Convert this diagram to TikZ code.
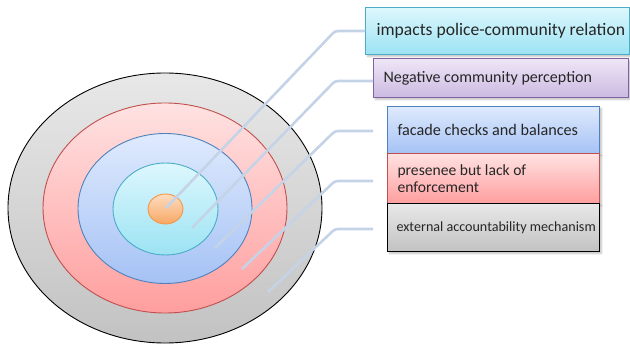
\documentclass[tikz,border=0pt]{standalone}
\usepackage{fontspec}
\setmainfont{Carlito}
\usetikzlibrary{shapes.geometric,shadows.blur}

\definecolor{lead}{HTML}{C5D3E7}
\definecolor{cyanEdge}{HTML}{4BACC6}
\definecolor{purpEdge}{HTML}{8064A2}
\definecolor{blueEdge}{HTML}{4F81BD}
\definecolor{redEdge}{HTML}{C0504D}
\definecolor{orangeEdge}{HTML}{F79646}
\definecolor{grayTop}{HTML}{E8E8E8}   \definecolor{grayBot}{HTML}{C2C2C2}
\definecolor{redTop}{HTML}{FFE2E2}    \definecolor{redBot}{HTML}{FF9E9E}
\definecolor{blueTop}{HTML}{DFEAFD}   \definecolor{blueBot}{HTML}{A5C2F5}
\definecolor{cyanTop}{HTML}{DDF7FD}   \definecolor{cyanBot}{HTML}{9CE3F3}
\definecolor{orTop}{HTML}{FDDCC0}     \definecolor{orBot}{HTML}{F8A864}
\definecolor{purpTop}{HTML}{EEE6F6}   \definecolor{purpBot}{HTML}{CCBAE2}

\tikzset{
  ring/.style={ellipse, inner sep=0pt, line width=0.9pt},
  lead/.style={draw=lead, line width=2.6pt, rounded corners=3pt},
  label box/.style={rectangle, anchor=north west, inner sep=0pt,
    line width=1.1pt, text=black!85,
    blur shadow={shadow xshift=2pt, shadow yshift=-2pt, shadow blur steps=4, shadow opacity=25}},
}
% a left-aligned label of given width and left padding
\newcommand{\boxtext}[3]{\makebox[#1][l]{\hspace*{#2}#3}}

\begin{document}
\begin{tikzpicture}[x=1pt,y=-1pt]
\useasboundingbox (0,0) rectangle (630,347);

% concentric rings, outermost first
\node[ring, draw=black, top color=grayTop, bottom color=grayBot,
  minimum width=314pt, minimum height=270pt] (r5) at (165,208) {};
\node[ring, draw=redEdge, top color=redTop, bottom color=redBot,
  minimum width=244pt, minimum height=210pt] (r4) at (165,208) {};
\node[ring, draw=blueEdge, top color=blueTop, bottom color=blueBot,
  minimum width=174pt, minimum height=150pt] (r3) at (165,208.5) {};
\node[ring, draw=cyanEdge, top color=cyanTop, bottom color=cyanBot,
  minimum width=105pt, minimum height=92pt] (r2) at (165.5,209) {};
\node[ring, draw=orangeEdge, top color=orTop, bottom color=orBot,
  minimum width=35pt, minimum height=30pt] (r1) at (165.5,209) {};

% label boxes
\node[label box, draw=cyanEdge, top color=cyanTop, bottom color=cyanBot,
  minimum height=47pt] (b1) at (365,7)
  {\fontsize{17.6}{19}\selectfont\boxtext{264pt}{11pt}{impacts police-community relation}};
\node[label box, draw=purpEdge, top color=purpTop, bottom color=purpBot,
  minimum height=39pt] (b2) at (373,58)
  {\fontsize{16}{18}\selectfont\boxtext{255pt}{10pt}{Negative community perception}};
\node[label box, draw=blueEdge, top color=blueTop, bottom color=blueBot,
  minimum height=47pt] (b3) at (387,106)
  {\fontsize{16.2}{18}\selectfont\boxtext{212pt}{10pt}{facade checks and balances}};
\node[label box, draw=redEdge, top color=redTop, bottom color=redBot,
  minimum height=50pt] (b4) at (387,153)
  {\fontsize{15.6}{16}\selectfont\boxtext{212pt}{10pt}{\shortstack[l]{presenee but lack of\\enforcement}}};
\node[label box, draw=black, top color=grayTop, bottom color=grayBot,
  minimum height=48pt] (b5) at (387,203)
  {\fontsize{14.1}{15}\selectfont\boxtext{212pt}{9pt}{external accountability mechanism}};

% leader lines: start points, elbows and loose ends
\coordinate (s1) at (166,208);  \coordinate (k1) at (335,31);
\coordinate (s2) at (192,228);  \coordinate (k2) at (335,81);
\coordinate (s3) at (215,248);  \coordinate (k3) at (335,131); \coordinate (e3) at (373,131);
\coordinate (s4) at (242,269);  \coordinate (k4) at (335,181); \coordinate (e4) at (373,181);
\coordinate (s5) at (268,292);  \coordinate (k5) at (335,229); \coordinate (e5) at (373,229);

\draw[lead] (s1) -- (k1) -- (k1 -| b1.west);
\draw[lead] (s2) -- (k2) -- (k2 -| b2.west);
\draw[lead] (s3) -- (k3) -- (e3);
\draw[lead] (s4) -- (k4) -- (e4);
\draw[lead] (s5) -- (k5) -- (e5);
\end{tikzpicture}
\end{document}
